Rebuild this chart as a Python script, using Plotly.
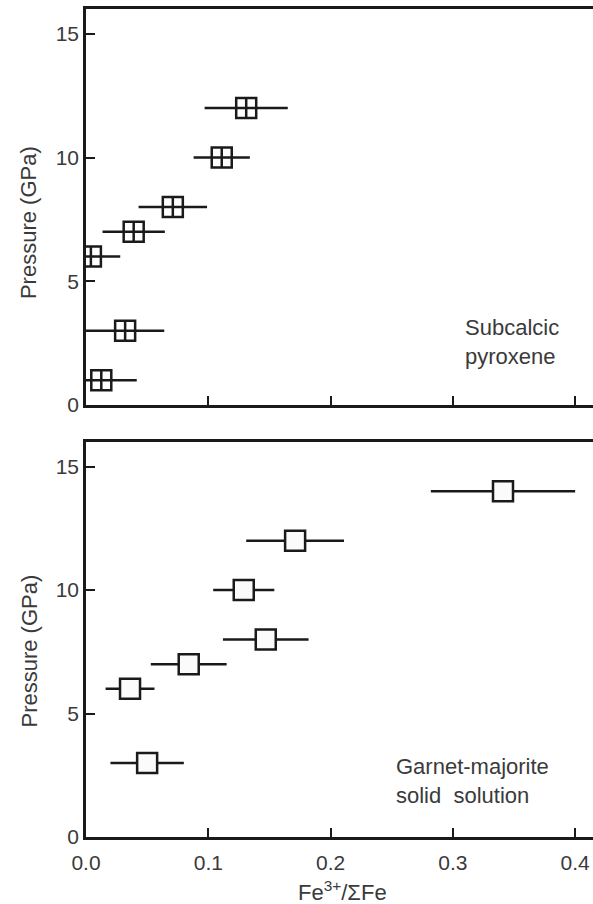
import plotly.graph_objects as go

# Subcalcic pyroxene (top panel)
px_pressure = [12, 10, 8, 7, 6, 3, 1]
px_ratio = [0.131, 0.111, 0.071, 0.039, 0.004, 0.032, 0.0125]
px_err = [0.034, 0.023, 0.028, 0.0255, 0.024, 0.032, 0.029]

# Garnet-majorite solid solution (bottom panel)
gt_pressure = [14, 12, 10, 8, 7, 6, 3]
gt_ratio = [0.341, 0.171, 0.129, 0.147, 0.084, 0.036, 0.050]
gt_err = [0.059, 0.040, 0.025, 0.035, 0.031, 0.020, 0.030]

x_ticks = [0.0, 0.1, 0.2, 0.3, 0.4]
x_ticklabels = ["0.0", "0.1", "0.2", "0.3", "0.4"]
y_ticks = [0, 5, 10, 15]

INK = "#1a1a1a"
TXT = "#3a3a3a"
FONT = "Liberation Sans, Arial, sans-serif"

fig = go.Figure()

fig.add_trace(go.Scatter(
    x=px_ratio, y=px_pressure, mode="markers",
    error_x=dict(type="data", array=px_err, symmetric=True, color=INK, thickness=2.5, width=0),
    marker=dict(symbol="square-cross", size=20, color="white", line=dict(color=INK, width=2.5)),
    xaxis="x", yaxis="y", showlegend=False, cliponaxis=True,
))
fig.add_trace(go.Scatter(
    x=gt_ratio, y=gt_pressure, mode="markers",
    error_x=dict(type="data", array=gt_err, symmetric=True, color=INK, thickness=2.5, width=0),
    marker=dict(symbol="square", size=20, color="#fbfbfb", line=dict(color=INK, width=2.5)),
    xaxis="x2", yaxis="y2", showlegend=False, cliponaxis=True,
))

xr = [0, 0.4146]
common_x = dict(range=xr, tickvals=x_ticks, ticktext=x_ticklabels, ticks="inside", ticklen=9,
                tickwidth=2, tickcolor=INK, showline=True, linecolor=INK, linewidth=2.5,
                mirror=True, showgrid=False, zeroline=False,
                tickfont=dict(family=FONT, size=21, color=TXT))
common_y = dict(range=[0, 16], tickvals=y_ticks, ticks="inside", ticklen=9, tickwidth=2,
                tickcolor=INK, showline=True, linecolor=INK, linewidth=2.5, mirror=False,
                showgrid=False, zeroline=False,
                tickfont=dict(family=FONT, size=21, color=TXT), ticklabelstandoff=0)

fig.update_layout(
    width=593, height=904,
    margin=dict(l=86, r=0, t=9, b=67),
    paper_bgcolor="white", plot_bgcolor="white",
    xaxis=dict(domain=[0, 1], anchor="y", showticklabels=False, **common_x),
    yaxis=dict(domain=[0.5217, 1.0], anchor="x", **common_y),
    xaxis2=dict(domain=[0, 1], anchor="y2", showticklabels=True, ticklabelstandoff=5, **common_x),
    yaxis2=dict(domain=[0, 0.4771], anchor="x2", **common_y),
    annotations=[
        dict(text="Fe<sup>3+</sup>/ΣFe", xref="paper", yref="paper", x=0.505, y=-0.0655,
             showarrow=False, xanchor="center", yanchor="middle", borderpad=0,
             font=dict(family=FONT, size=22, color=TXT)),
        dict(text="Pressure (GPa)", xref="paper", yref="paper", x=-0.112, y=0.5217 + 0.4783 * 0.46,
             textangle=-90, showarrow=False, xanchor="center", yanchor="middle",
             font=dict(family=FONT, size=22, color=TXT)),
        dict(text="Pressure (GPa)", xref="paper", yref="paper", x=-0.112, y=0.4771 * 0.47,
             textangle=-90, showarrow=False, xanchor="center", yanchor="middle",
             font=dict(family=FONT, size=22, color=TXT)),
        dict(text="Subcalcic<br>pyroxene", xref="x", yref="y", x=0.308, y=2.55, showarrow=False,
             xanchor="left", yanchor="middle", align="left",
             font=dict(family=FONT, size=22, color=TXT)),
        dict(text="Garnet-majorite<br>solid\u00a0\u00a0solution", xref="x2", yref="y2", x=0.252, y=2.27,
             showarrow=False, xanchor="left", yanchor="middle", align="left",
             font=dict(family=FONT, size=22, color=TXT)),
    ],
)

fig.write_html(
    "out.html",
    config={"displayModeBar": False},
    post_script="document.body.style.margin='0';document.body.style.padding='0';"
                "document.documentElement.style.overflow='hidden';",
)
